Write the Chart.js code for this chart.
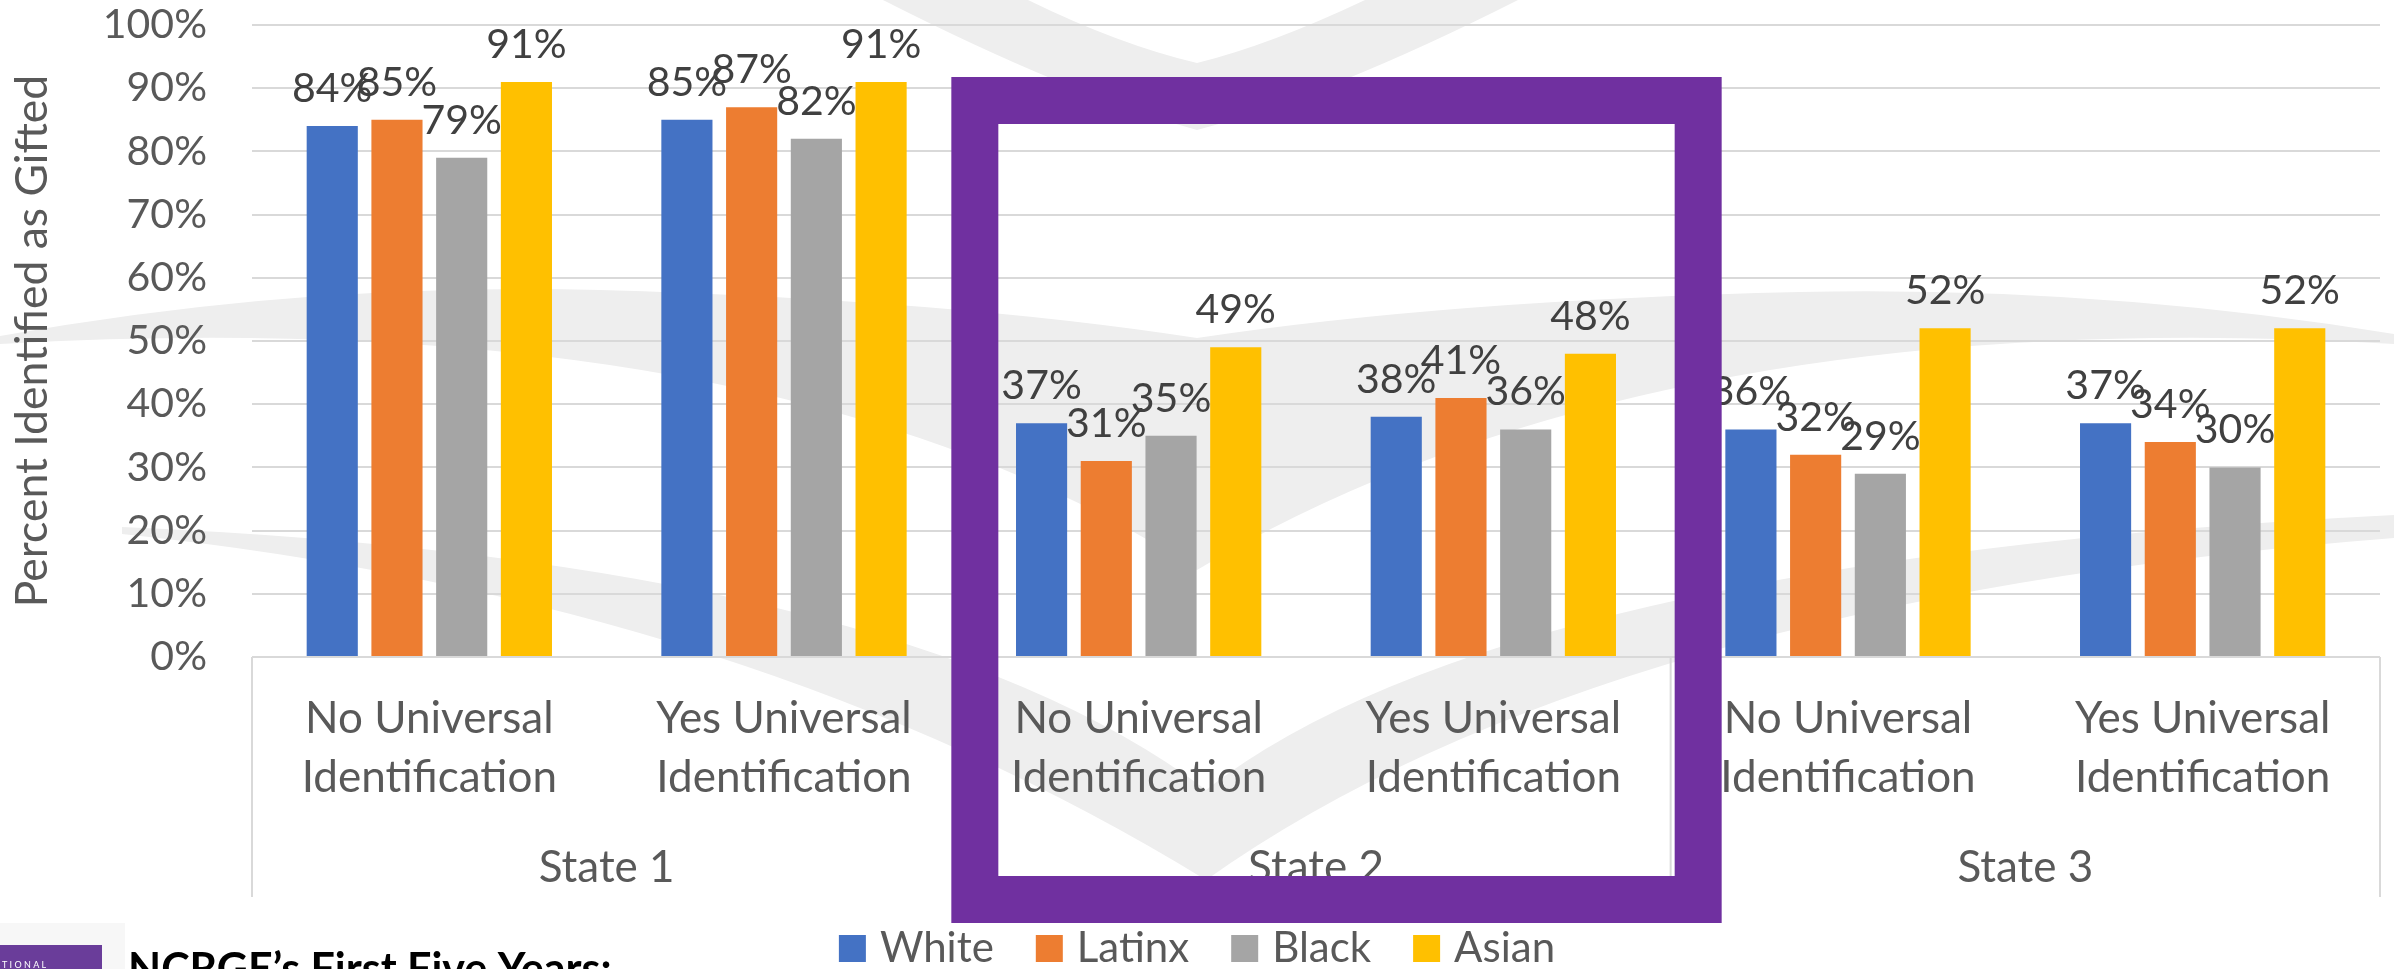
<!DOCTYPE html>
<html>
<head>
<meta charset="utf-8">
<title>Percent Identified as Gifted</title>
<script src="https://cdn.jsdelivr.net/npm/chart.js@4.4.1/dist/chart.umd.min.js"></script>
<style>
  html, body { margin: 0; padding: 0; background: #ffffff; }
  #wrap { width: 2394px; height: 969px; position: relative; overflow: hidden; }
  canvas { display: block; }
</style>
</head>
<body>
<div id="wrap"><canvas id="chart" width="2394" height="969"></canvas></div>
<script>
// Sub-categories (two-line labels) and their state groups
const categories = [
  ["No Universal", "Identification"],
  ["Yes Universal", "Identification"],
  ["No Universal", "Identification"],
  ["Yes Universal", "Identification"],
  ["No Universal", "Identification"],
  ["Yes Universal", "Identification"]
];
const groups = ["State 1", "State 2", "State 3"];

// Percent identified as gifted, by group
const whiteValues  = [84, 85, 37, 38, 36, 37];
const latinxValues = [85, 87, 31, 41, 32, 34];
const blackValues  = [79, 82, 35, 36, 29, 30];
const asianValues  = [91, 91, 49, 48, 52, 52];

const seriesNames  = ["White", "Latinx", "Black", "Asian"];
const seriesColors = ["#4472C4", "#ED7D31", "#A5A5A5", "#FFC000"];

// Value axis ticks
const yMin = 0, yMax = 100, yStep = 10;

const FONT = "Lato, 'Open Sans', sans-serif";
const TEXT_GRAY = "#595959";
const LABEL_GRAY = "#404040";
const GRID = "#D9D9D9";
const PURPLE = "#7030A0";

// Faint slide watermark behind the chart (stacked chevrons)
const watermark = {
  id: 'watermark',
  beforeDraw(chart) {
    const ctx = chart.ctx;
    ctx.save();
    ctx.fillStyle = '#ffffff';
    ctx.fillRect(0, 0, chart.width, chart.height);
    ctx.fillStyle = '#eeeeee';

    // top chevron
    ctx.beginPath();
    ctx.moveTo(883, 0);
    ctx.quadraticCurveTo(1070, 95, 1197, 130);
    ctx.quadraticCurveTo(1330, 95, 1518, 0);
    ctx.lineTo(1365, 0);
    ctx.quadraticCurveTo(1270, 45, 1197, 63);
    ctx.quadraticCurveTo(1120, 45, 1028, 0);
    ctx.closePath();
    ctx.fill();

    // wings
    ctx.beginPath();
    ctx.moveTo(0, 336);
    ctx.quadraticCurveTo(300, 282, 600, 290);
    ctx.quadraticCurveTo(950, 300, 1197, 338);
    ctx.quadraticCurveTo(1450, 300, 1800, 292);
    ctx.quadraticCurveTo(2100, 286, 2394, 334);
    ctx.lineTo(2394, 344);
    ctx.quadraticCurveTo(1650, 300, 1197, 570);
    ctx.quadraticCurveTo(780, 300, 0, 344);
    ctx.closePath();
    ctx.fill();

    // lower V
    ctx.beginPath();
    ctx.moveTo(122, 527);
    ctx.quadraticCurveTo(900, 560, 1206, 790);
    ctx.quadraticCurveTo(1500, 560, 2394, 515);
    ctx.lineTo(2394, 538);
    ctx.quadraticCurveTo(1600, 600, 1206, 880);
    ctx.quadraticCurveTo(750, 600, 122, 534);
    ctx.closePath();
    ctx.fill();
    ctx.restore();
  }
};

// Value labels above each bar
const valueLabels = {
  id: 'valueLabels',
  afterDatasetsDraw(chart) {
    const ctx = chart.ctx;
    ctx.save();
    ctx.font = "41px " + FONT;
    ctx.fillStyle = LABEL_GRAY;
    ctx.textAlign = 'center';
    ctx.textBaseline = 'alphabetic';
    chart.data.datasets.forEach((ds, i) => {
      const meta = chart.getDatasetMeta(i);
      meta.data.forEach((bar, j) => {
        ctx.fillText(ds.data[j] + '%', bar.x, bar.y - 24);
      });
    });
    ctx.restore();
  }
};

// Group row of the category axis, separators, highlight frame, legend, footer
const decorations = {
  id: 'decorations',
  afterDraw(chart) {
    const ctx = chart.ctx;
    const x = chart.scales.x;
    const area = chart.chartArea;
    const half = (x.getPixelForValue(1) - x.getPixelForValue(0)) / 2;
    const axisBottom = 897;

    ctx.save();
    // group separators
    ctx.strokeStyle = GRID;
    ctx.lineWidth = 2;
    const bounds = [];
    for (let g = 0; g <= groups.length; g++) {
      let px;
      if (g === 0) px = x.left;
      else if (g === groups.length) px = x.right;
      else px = x.getPixelForValue(g * 2) - half;
      bounds.push(px);
      ctx.beginPath();
      ctx.moveTo(px, area.bottom);
      ctx.lineTo(px, axisBottom);
      ctx.stroke();
    }

    // group labels
    ctx.font = "44px " + FONT;
    ctx.fillStyle = TEXT_GRAY;
    ctx.textAlign = 'center';
    ctx.textBaseline = 'alphabetic';
    groups.forEach((name, g) => {
      const cx = (x.getPixelForValue(g * 2) + x.getPixelForValue(g * 2 + 1)) / 2;
      ctx.fillText(name, cx, 882);
    });

    // highlight frame around State 2
    const t = 47;
    const fl = bounds[1] - 10, fr = bounds[2] + 51;
    const ft = 77, fb = 923;
    ctx.strokeStyle = PURPLE;
    ctx.lineWidth = t;
    ctx.strokeRect(fl + t / 2, ft + t / 2, fr - fl - t, fb - ft - t);

    // legend
    ctx.font = "42px " + FONT;
    ctx.textAlign = 'left';
    const box = 27, gapBox = 14, gapItem = 42;
    const items = chart.data.datasets.map(d => ({
      label: d.label, color: d.backgroundColor, w: ctx.measureText(d.label).width
    }));
    const total = items.reduce((s, it) => s + box + gapBox + it.w, 0) + gapItem * (items.length - 1);
    let lx = chart.width / 2 - total / 2;
    items.forEach(it => {
      ctx.fillStyle = it.color;
      ctx.fillRect(lx, 935, box, box);
      ctx.fillStyle = TEXT_GRAY;
      ctx.fillText(it.label, lx + box + gapBox, 962);
      lx += box + gapBox + it.w + gapItem;
    });

    // footer badge and title
    ctx.fillStyle = '#f7f7f7';
    ctx.fillRect(0, 923, 125, 46);
    ctx.fillStyle = '#6a3d9a';
    ctx.fillRect(0, 945, 102, 24);
    ctx.fillStyle = '#ffffff';
    ctx.font = "9px " + FONT;
    ctx.fillText("T I O N A L", 2, 968);
    ctx.fillStyle = '#000000';
    ctx.font = "bold 43px " + FONT;
    ctx.fillText("NCRGE\u2019s First Five Years:", 128, 984);
    ctx.restore();
  }
};

const datasets = [whiteValues, latinxValues, blackValues, asianValues].map((vals, i) => ({
  label: seriesNames[i],
  data: vals,
  backgroundColor: seriesColors[i],
  borderWidth: 0,
  categoryPercentage: 0.73,
  barPercentage: 0.79
}));

new Chart(document.getElementById('chart'), {
  type: 'bar',
  data: { labels: categories, datasets },
  options: {
    responsive: false,
    animation: false,
    devicePixelRatio: 1,
    layout: { padding: { left: 0, right: 14, top: 25, bottom: 0 } },
    plugins: {
      legend: { display: false },
      tooltip: { enabled: false }
    },
    scales: {
      x: {
        grid: { display: false, drawTicks: false },
        border: { display: false },
        ticks: {
          autoSkip: false,
          maxRotation: 0,
          minRotation: 0,
          padding: 32,
          color: TEXT_GRAY,
          font: { family: FONT, size: 44, lineHeight: 1.34 }
        },
        afterFit(scale) { scale.height = 312; }
      },
      y: {
        min: yMin,
        max: yMax,
        grid: { color: GRID, lineWidth: 2, drawTicks: false },
        border: { display: false },
        ticks: {
          stepSize: yStep,
          padding: 45,
          color: TEXT_GRAY,
          font: { family: FONT, size: 41 },
          callback: v => v + '%'
        },
        title: {
          display: true,
          text: 'Percent Identified as Gifted',
          color: TEXT_GRAY,
          font: { family: FONT, size: 44.5 },
          padding: { top: 6, bottom: 0 }
        },
        afterFit(scale) {
          scale.width = 252;
          scale.paddingTop = 25;
          scale.paddingBottom = 0;
        }
      }
    }
  },
  plugins: [watermark, valueLabels, decorations]
});
</script>
</body>
</html>
